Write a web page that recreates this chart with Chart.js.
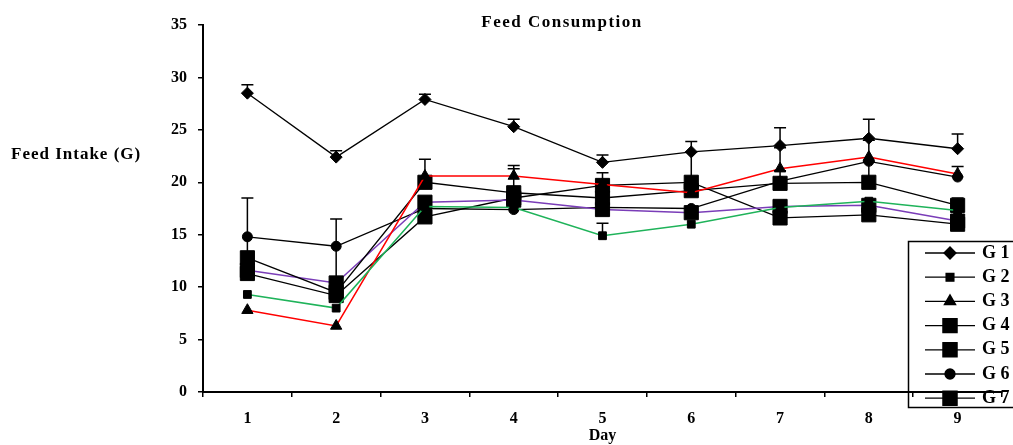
<!DOCTYPE html>
<html>
<head>
<meta charset="utf-8">
<script src="https://cdn.jsdelivr.net/npm/chart.js@4"></script>
<style>
  html, body { margin: 0; padding: 0; background: #fff; }
  #wrap { width: 1013px; height: 445px; }
</style>
</head>
<body>
<div id="wrap"><canvas id="feedChart" width="1013" height="445"></canvas></div>
<script>
// ===== DATA =====
const days = ['1', '2', '3', '4', '5', '6', '7', '8', '9'];
const groupNames = ['G 1', 'G 2', 'G 3', 'G 4', 'G 5', 'G 6', 'G 7'];

const g1 = [28.5, 22.4, 27.9, 25.3, 21.9, 22.9, 23.5, 24.2, 23.2];
const g2 = [9.3, 8.0, 17.7, 17.6, 14.9, 16.0, 17.6, 18.2, 17.3];
const g3 = [7.8, 6.3, 20.6, 20.6, 19.8, 19.0, 21.3, 22.4, 20.8];
const g4 = [12.8, 9.5, 20.0, 19.0, 18.5, 19.2, 19.9, 20.0, 17.8];
const g5 = [11.6, 10.4, 18.1, 18.3, 17.4, 17.1, 17.7, 17.8, 16.3];
const g6 = [14.8, 13.9, 17.5, 17.4, 17.6, 17.5, 20.1, 22.0, 20.5];
const g7 = [11.3, 9.2, 16.7, 18.5, 19.7, 20.0, 16.6, 16.9, 16.0];

// upper error bars (0 = none drawn)
const e1 = [0.8, 0.6, 0.5, 0.7, 0.7, 1.0, 1.7, 1.8, 1.4];
const e2 = [0, 0, 0, 0, 1.2, 0, 0, 0, 0];
const e3 = [0, 0, 0, 1.0, 0, 0, 2.0, 0, 0.7];
const e4 = [5.7, 7.0, 2.2, 2.3, 0, 0, 1.2, 2.0, 0.7];
const e5 = [0, 0, 0, 0, 0, 0, 0, 0, 0];
const e6 = [0, 0, 0, 0, 0, 0, 0, 2.0, 0];
const e7 = [0, 0, 0, 0, 1.2, 2.9, 0, 0, 0];

const yTicks = [0, 5, 10, 15, 20, 25, 30, 35];

const SERIF = '"Liberation Serif", "DejaVu Serif", serif';

// ===== PLUGINS =====
const errorBars = {
    id: 'errorBars',
    afterDatasetsDraw(chart) {
        const ctx = chart.ctx;
        const y = chart.scales.y;
        ctx.save();
        ctx.strokeStyle = '#000';
        ctx.lineWidth = 1.5;
        chart.data.datasets.forEach((ds, i) => {
            const meta = chart.getDatasetMeta(i);
            ds.errors.forEach((err, j) => {
                if (!err) return;
                const px = meta.data[j].x;
                const y0 = y.getPixelForValue(ds.data[j]);
                const y1 = y.getPixelForValue(ds.data[j] + err);
                ctx.beginPath();
                ctx.moveTo(px, y0);
                ctx.lineTo(px, y1);
                ctx.moveTo(px - 6, y1);
                ctx.lineTo(px + 6, y1);
                ctx.stroke();
            });
        });
        ctx.restore();
    }
};

const extraText = {
    id: 'extraText',
    afterDraw(chart) {
        const ctx = chart.ctx;
        ctx.save();
        ctx.fillStyle = '#000';
        ctx.textBaseline = 'middle';

        // title
        ctx.font = 'bold 17px ' + SERIF;
        ctx.textAlign = 'center';
        ctx.letterSpacing = '1.5px';
        ctx.fillText('Feed Consumption', 562, 23);

        // y label (horizontal)
        ctx.textAlign = 'left';
        ctx.letterSpacing = '1px';
        ctx.fillText('Feed Intake (G)', 11, 155);
        ctx.letterSpacing = '0px';

        // legend box
        const bx = 908, by = 241;
        ctx.lineWidth = 1.5;
        ctx.strokeStyle = '#000';
        ctx.strokeRect(bx + 0.5, by + 0.5, 120, 166);
        chart.data.datasets.forEach((ds, i) => {
            const ly = 253 + i * 24.2;
            ctx.beginPath();
            ctx.lineWidth = 1.3;
            ctx.moveTo(925, ly);
            ctx.lineTo(975, ly);
            ctx.stroke();
            ctx.fillStyle = '#000';
            Chart.helpers.drawPoint(ctx, {
                pointStyle: ds.pointStyle,
                radius: ds.pointRadius,
                rotation: 0,
                borderWidth: 1
            }, 950, ly);
            ctx.fill();
            ctx.font = 'bold 18px ' + SERIF;
            ctx.fillText(ds.label, 982, ly);
        });
        ctx.restore();
    }
};

// ===== CHART =====
function series(label, data, errors, color, style, radius, width) {
    return {
        label: label,
        data: data,
        errors: errors,
        borderColor: color,
        borderWidth: width,
        backgroundColor: '#000',
        pointStyle: style,
        pointRadius: radius,
        pointHoverRadius: radius,
        pointBackgroundColor: '#000',
        pointBorderColor: '#000',
        pointBorderWidth: 1,
        tension: 0,
        fill: false
    };
}

const datasets = [
    series(groupNames[0], g1, e1, '#000000', 'rectRot', 6, 1.3),
    series(groupNames[1], g2, e2, '#1fb35a', 'rect', 5.5, 1.5),
    series(groupNames[2], g3, e3, '#ff0000', 'triangle', 6.5, 1.5),
    series(groupNames[3], g4, e4, '#000000', 'rect', 10, 1.3),
    series(groupNames[4], g5, e5, '#7a3db8', 'rect', 10, 1.5),
    series(groupNames[5], g6, e6, '#000000', 'circle', 5, 1.3),
    series(groupNames[6], g7, e7, '#000000', 'rect', 10, 1.3)
];

new Chart(document.getElementById('feedChart').getContext('2d'), {
    type: 'line',
    data: { labels: days, datasets: datasets },
    plugins: [errorBars, extraText],
    options: {
        responsive: false,
        animation: false,
        layout: { padding: { top: 25, right: 4, bottom: 0, left: 0 } },
        plugins: {
            legend: { display: false },
            title: { display: false },
            tooltip: { enabled: false }
        },
        scales: {
            x: {
                type: 'category',
                offset: true,
                border: { color: '#000', width: 2 },
                grid: { offset: true, drawOnChartArea: false, drawTicks: true, tickLength: 5, color: '#000', lineWidth: 1.5 },
                ticks: { color: '#000', padding: 12, font: { family: SERIF, size: 16, weight: 'bold' } },
                title: { display: true, text: 'Day', color: '#000', padding: 0, font: { family: SERIF, size: 16, weight: 'bold' } },
                afterFit: s => { s.height = 53; }
            },
            y: {
                min: 0,
                max: 35,
                afterBuildTicks: s => { s.ticks = yTicks.map(v => ({ value: v })); },
                border: { color: '#000', width: 2 },
                grid: { drawOnChartArea: false, drawTicks: true, tickLength: 5, color: '#000', lineWidth: 1.5 },
                ticks: { color: '#000', padding: 11, font: { family: SERIF, size: 16, weight: 'bold' } },
                afterFit: s => { s.width = 203; }
            }
        }
    }
});
</script>
</body>
</html>
